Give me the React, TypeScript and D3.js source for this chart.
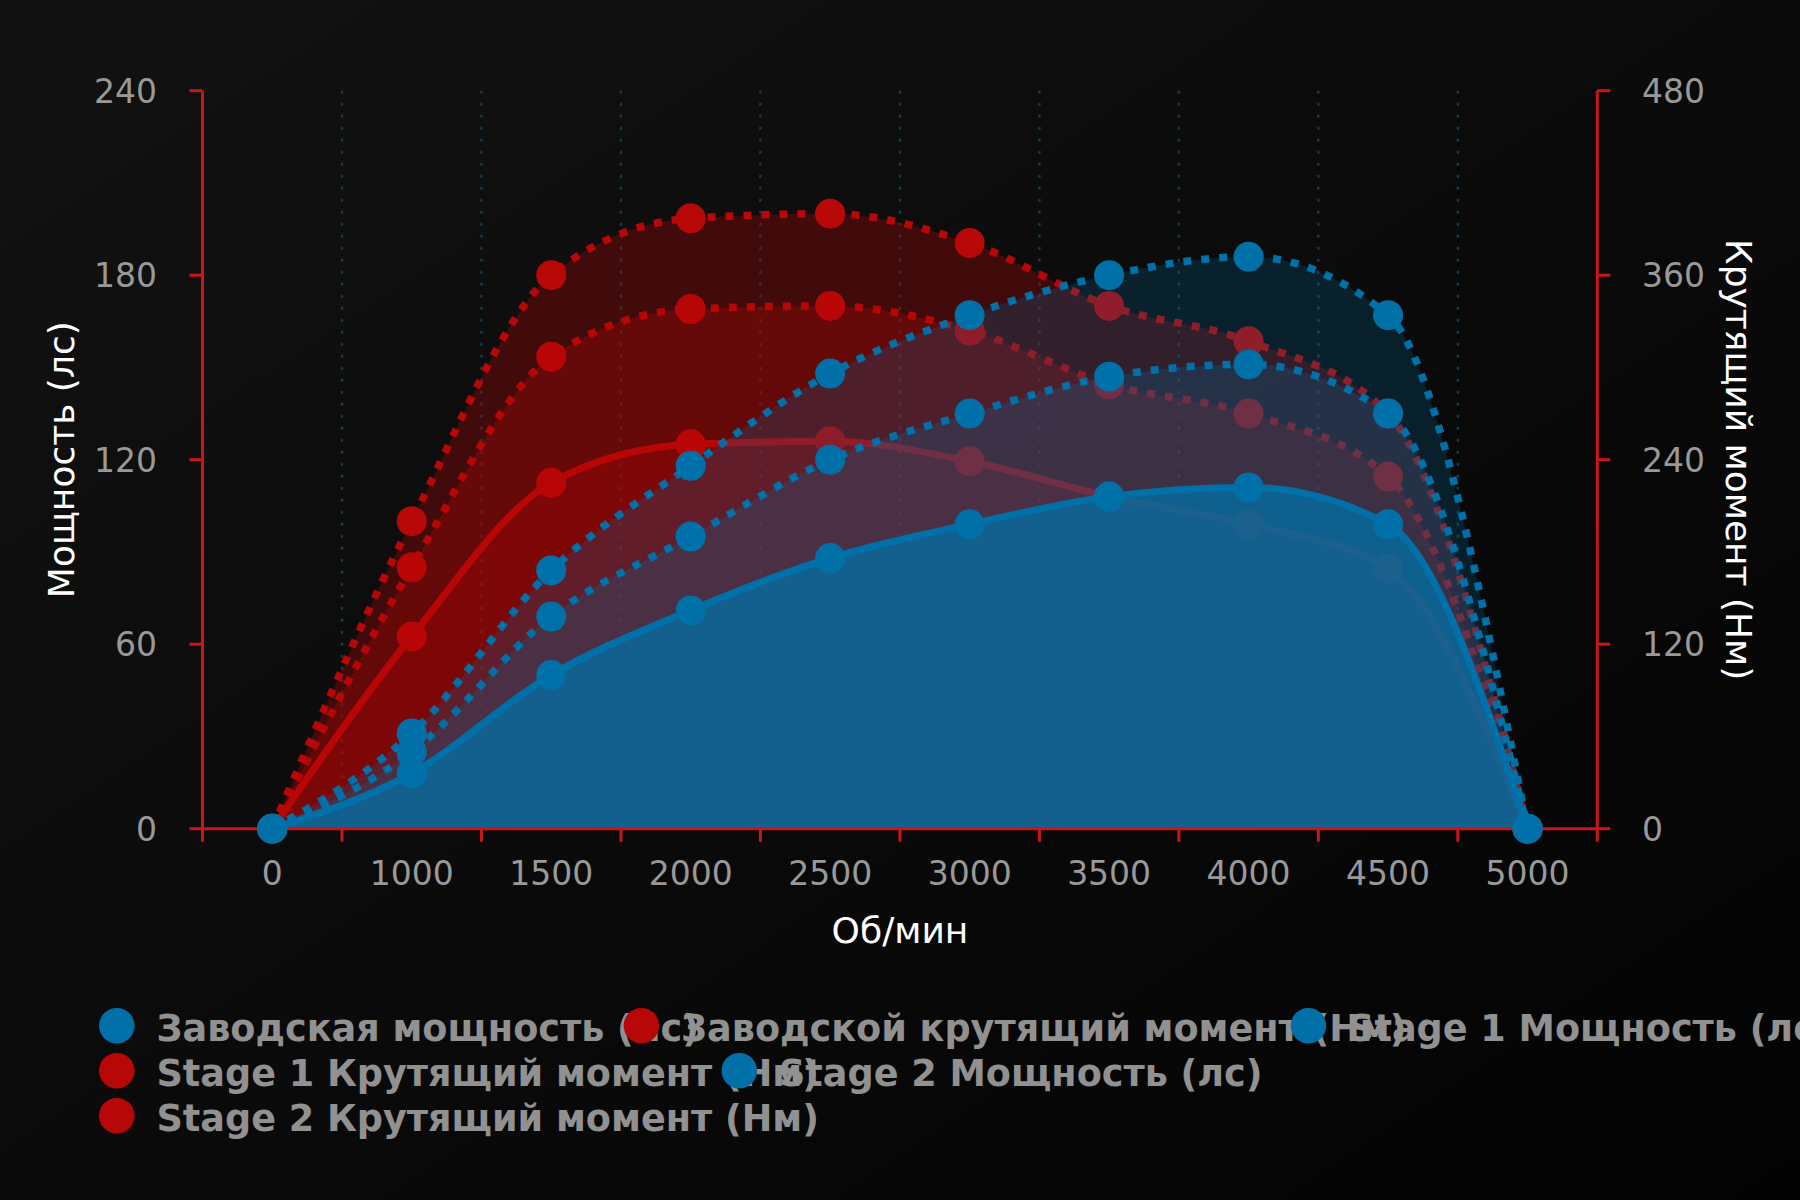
import * as d3 from "d3";

// ---- data ----
const RPM = ["0", "1000", "1500", "2000", "2500", "3000", "3500", "4000", "4500", "5000"];

const FACTORY_POWER = [0, 18, 50, 71, 88, 99, 108, 111, 99, 0];
const FACTORY_TORQUE = [0, 125, 225, 250, 252, 239, 216, 198, 169, 0];
const STAGE1_POWER = [0, 25, 69, 95, 120, 135, 147, 151, 135, 0];
const STAGE1_TORQUE = [0, 170, 307, 338, 340, 324, 289, 270, 229, 0];
const STAGE2_POWER = [0, 31, 84, 118, 148, 167, 180, 186, 167, 0];
const STAGE2_TORQUE = [0, 200, 360, 397, 400, 381, 340, 317, 270, 0];

const POWER_TICKS = [0, 60, 120, 180, 240];
const TORQUE_TICKS = [0, 120, 240, 360, 480];

const BLUE = "#0071a8";
const RED = "#b80707";
const AXIS_RED = "#cc1616";
const FONT = "'DejaVu Sans', Verdana, sans-serif";

type Series = {
  name: string;
  values: number[];
  axis: "power" | "torque";
  color: string;
  dotted: boolean;
  fillOpacity: number;
};

// legend order
const SERIES: Series[] = [
  { name: "Заводская мощность (лс)", values: FACTORY_POWER, axis: "power", color: BLUE, dotted: false, fillOpacity: 0.74 },
  { name: "Заводской крутящий момент (Нм)", values: FACTORY_TORQUE, axis: "torque", color: RED, dotted: false, fillOpacity: 0.3 },
  { name: "Stage 1 Мощность (лс)", values: STAGE1_POWER, axis: "power", color: BLUE, dotted: true, fillOpacity: 0.22 },
  { name: "Stage 1 Крутящий момент (Нм)", values: STAGE1_TORQUE, axis: "torque", color: RED, dotted: true, fillOpacity: 0.3 },
  { name: "Stage 2 Мощность (лс)", values: STAGE2_POWER, axis: "power", color: BLUE, dotted: true, fillOpacity: 0.22 },
  { name: "Stage 2 Крутящий момент (Нм)", values: STAGE2_TORQUE, axis: "torque", color: RED, dotted: true, fillOpacity: 0.3 },
];

const W = 1800;
const H = 1200;
const M = { left: 202.5, right: 1597.3, top: 90.7, bottom: 828.7 };
const TICK = 13;

// rough legend width guess per char (latin a bit narrower), like the original layout did
const estWidth = (s: string) =>
  Array.from(s).reduce((acc, ch) => acc + (/[A-Za-z0-9]/.test(ch) ? 19.7 : 20.34), 0) + 56.8;

export default function App() {
  const x = d3.scaleBand<string>().domain(RPM).range([M.left, M.right]).padding(0);
  const cx = (i: number) => (x(RPM[i]) ?? 0) + x.bandwidth() / 2;
  const yPower = d3.scaleLinear().domain([0, 240]).range([M.bottom, M.top]);
  const yTorque = d3.scaleLinear().domain([0, 480]).range([M.bottom, M.top]);

  const boundaries = d3.range(RPM.length + 1).map((i) => M.left + i * x.bandwidth());

  // torque series sit below power series
  const drawOrder = [
    ...SERIES.filter((s) => s.axis === "torque"),
    ...SERIES.filter((s) => s.axis === "power"),
  ];

  const yOf = (s: Series) => (s.axis === "power" ? yPower : yTorque);

  const lineFor = (s: Series) =>
    d3
      .line<number>()
      .x((_, i) => cx(i))
      .y((v) => yOf(s)(v))
      .curve(d3.curveMonotoneX)(s.values) ?? "";

  const areaFor = (s: Series) =>
    d3
      .area<number>()
      .x((_, i) => cx(i))
      .y0(M.bottom)
      .y1((v) => yOf(s)(v))
      .curve(d3.curveMonotoneX)(s.values) ?? "";

  // legend flow layout
  const legendItems: { s: Series; x: number; y: number }[] = [];
  {
    let lx = 99;
    let row = 0;
    SERIES.forEach((s) => {
      const w = estWidth(s.name);
      if (lx + w > W && lx > 99) {
        row += 1;
        lx = 99;
      }
      legendItems.push({ s, x: lx, y: 1025.7 + row * 45 });
      lx += w;
    });
  }

  return (
    <div>
      <style>{"body{margin:0;background:#000}"}</style>
      <svg width={W} height={H} style={{ display: "block" }} fontFamily={FONT}>
        <defs>
          <linearGradient id="bg" x1="0" y1="0" x2="1" y2="1">
            <stop offset="0%" stopColor="#121212" />
            <stop offset="100%" stopColor="#030303" />
          </linearGradient>
        </defs>
        <rect width={W} height={H} fill="url(#bg)" />

        {/* split lines */}
        {boundaries.slice(1, -1).map((bx, i) => (
          <line
            key={"g" + i}
            x1={bx}
            x2={bx}
            y1={M.top}
            y2={M.bottom}
            stroke="#0b3d4e"
            strokeWidth={2.5}
            strokeDasharray="3 9"
          />
        ))}

        {/* series: areas + lines (+ torque markers) */}
        {drawOrder.map((s, si) => (
          <g key={"s" + si}>
            <path d={areaFor(s)} fill={s.color} fillOpacity={s.fillOpacity} />
            <path
              d={lineFor(s)}
              fill="none"
              stroke={s.color}
              strokeWidth={s.dotted ? 7.5 : 7}
              strokeDasharray={s.dotted ? "8 10" : undefined}
              strokeLinejoin="round"
            />
            {s.axis === "torque" &&
              s.values.map((v, i) => (
                <circle key={i} cx={cx(i)} cy={yOf(s)(v)} r={15} fill={s.color} />
              ))}
          </g>
        ))}

        {/* axes */}
        <g stroke={AXIS_RED} strokeWidth={3}>
          <line x1={M.left} x2={M.right} y1={M.bottom} y2={M.bottom} />
          <line x1={M.left} x2={M.left} y1={M.top} y2={M.bottom} />
          <line x1={M.right} x2={M.right} y1={M.top} y2={M.bottom} />
          {boundaries.map((bx, i) => (
            <line key={"xt" + i} x1={bx} x2={bx} y1={M.bottom} y2={M.bottom + TICK} />
          ))}
          {POWER_TICKS.map((t) => (
            <line key={"lt" + t} x1={M.left - TICK} x2={M.left} y1={yPower(t)} y2={yPower(t)} />
          ))}
          {TORQUE_TICKS.map((t) => (
            <line key={"rt" + t} x1={M.right} x2={M.right + TICK} y1={yTorque(t)} y2={yTorque(t)} />
          ))}
        </g>

        {/* power markers on top */}
        {drawOrder
          .filter((s) => s.axis === "power")
          .map((s, si) => (
            <g key={"pm" + si}>
              {s.values.map((v, i) => (
                <circle key={i} cx={cx(i)} cy={yOf(s)(v)} r={15} fill={s.color} />
              ))}
            </g>
          ))}

        {/* tick labels */}
        <g fill="#999999" fontSize={33}>
          {RPM.map((r, i) => (
            <text key={"xl" + r} x={cx(i)} y={885.3} textAnchor="middle">
              {r}
            </text>
          ))}
          {POWER_TICKS.map((t) => (
            <text key={"ll" + t} x={157} y={yPower(t) + 12} textAnchor="end">
              {t}
            </text>
          ))}
          {TORQUE_TICKS.map((t) => (
            <text key={"rl" + t} x={1642} y={yTorque(t) + 12} textAnchor="start">
              {t}
            </text>
          ))}
        </g>

        {/* axis titles */}
        <g fill="#ffffff" fontSize={36}>
          <text x={900} y={943} textAnchor="middle">
            Об/мин
          </text>
          <text
            transform={`translate(61.5,${(M.top + M.bottom) / 2}) rotate(-90)`}
            textAnchor="middle"
            dy="0.36em"
          >
            Мощность (лс)
          </text>
          <text
            transform={`translate(1739,${(M.top + M.bottom) / 2}) rotate(90)`}
            textAnchor="middle"
            dy="0.36em"
          >
            Крутящий момент (Нм)
          </text>
        </g>

        {/* legend */}
        {legendItems.map((it, i) => (
          <g key={"lg" + i}>
            <circle cx={it.x + 17.8} cy={it.y} r={17.8} fill={it.s.color} />
            <text x={it.x + 57.5} y={it.y + 15} fill="#919191" fontSize={36.6} fontWeight="bold">
              {it.s.name}
            </text>
          </g>
        ))}
      </svg>
    </div>
  );
}
